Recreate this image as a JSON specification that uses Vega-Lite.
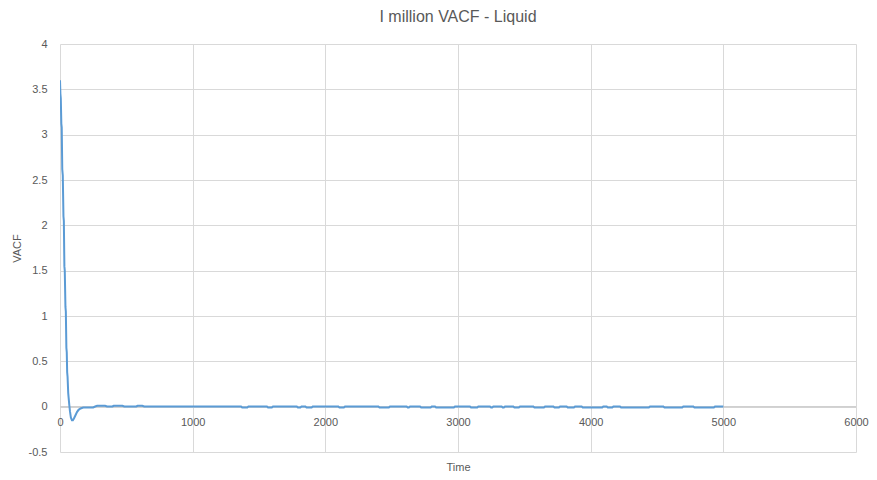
{
  "$schema": "https://vega.github.io/schema/vega-lite/v6.json",
  "autosize": "none",
  "width": 796,
  "height": 408,
  "padding": {"left": 60, "top": 44, "right": 21, "bottom": 28},
  "background": "white",
  "title": {"text": "I million VACF - Liquid", "fontSize": 16, "fontWeight": "normal", "color": "#595959", "font": "Liberation Sans", "offset": 13},
  "config": {"view": {"stroke": null}, "font": "Liberation Sans"},
  "data": {"values": [
    {"t": 0, "v": 3.6}, {"t": 3, "v": 3.45}, {"t": 6, "v": 3.4}, {"t": 10, "v": 3.12}, {"t": 13, "v": 3.08},
    {"t": 17, "v": 2.62}, {"t": 21, "v": 2.55}, {"t": 26, "v": 2.1}, {"t": 29, "v": 2.05}, {"t": 33, "v": 1.55},
    {"t": 36, "v": 1.5}, {"t": 41, "v": 1.1}, {"t": 44, "v": 1.05}, {"t": 48, "v": 0.65}, {"t": 51, "v": 0.6},
    {"t": 54, "v": 0.38}, {"t": 57, "v": 0.33}, {"t": 62, "v": 0.15}, {"t": 65, "v": 0.1}, {"t": 70, "v": 0.02},
    {"t": 75, "v": -0.05}, {"t": 82, "v": -0.12}, {"t": 90, "v": -0.15}, {"t": 97, "v": -0.15}, {"t": 105, "v": -0.13},
    {"t": 115, "v": -0.1}, {"t": 128, "v": -0.06}, {"t": 140, "v": -0.035}, {"t": 155, "v": -0.02}, {"t": 175, "v": -0.01},
    {"t": 250, "v": -0.008}, {"t": 265, "v": 0.002}, {"t": 280, "v": 0.01}, {"t": 340, "v": 0.01}, {"t": 355, "v": 0.002},
    {"t": 395, "v": 0.002}, {"t": 405, "v": 0.01}, {"t": 470, "v": 0.01}, {"t": 485, "v": 0.002}, {"t": 575, "v": 0.002},
    {"t": 585, "v": 0.01}, {"t": 620, "v": 0.01}, {"t": 635, "v": 0.002},
    {"t": 1365, "v": 0.002}, {"t": 1373, "v": -0.008}, {"t": 1412, "v": -0.008}, {"t": 1420, "v": 0.002},
    {"t": 1560, "v": 0.002}, {"t": 1568, "v": -0.008}, {"t": 1597, "v": -0.008}, {"t": 1605, "v": 0.002},
    {"t": 1785, "v": 0.002}, {"t": 1793, "v": -0.008}, {"t": 1812, "v": -0.008}, {"t": 1820, "v": 0.002},
    {"t": 1850, "v": 0.002}, {"t": 1858, "v": -0.008}, {"t": 1897, "v": -0.008}, {"t": 1905, "v": 0.002},
    {"t": 2098, "v": 0.002}, {"t": 2106, "v": -0.008}, {"t": 2140, "v": -0.008}, {"t": 2148, "v": 0.002},
    {"t": 2400, "v": 0.002}, {"t": 2408, "v": -0.008}, {"t": 2479, "v": -0.008}, {"t": 2487, "v": 0.002},
    {"t": 2613, "v": 0.002}, {"t": 2621, "v": -0.008}, {"t": 2630, "v": -0.008}, {"t": 2638, "v": 0.002},
    {"t": 2714, "v": 0.002}, {"t": 2722, "v": -0.008}, {"t": 2794, "v": -0.008}, {"t": 2802, "v": 0.002},
    {"t": 2827, "v": 0.002}, {"t": 2835, "v": -0.008}, {"t": 2969, "v": -0.008}, {"t": 2977, "v": 0.002},
    {"t": 3090, "v": 0.002}, {"t": 3098, "v": -0.008}, {"t": 3145, "v": -0.008}, {"t": 3153, "v": 0.002},
    {"t": 3241, "v": 0.002}, {"t": 3249, "v": -0.008}, {"t": 3258, "v": -0.008}, {"t": 3266, "v": 0.002},
    {"t": 3329, "v": 0.002}, {"t": 3337, "v": -0.008}, {"t": 3346, "v": -0.008}, {"t": 3354, "v": 0.002},
    {"t": 3417, "v": 0.002}, {"t": 3425, "v": -0.008}, {"t": 3459, "v": -0.008}, {"t": 3467, "v": 0.002},
    {"t": 3568, "v": 0.002}, {"t": 3576, "v": -0.008}, {"t": 3648, "v": -0.008}, {"t": 3656, "v": 0.002},
    {"t": 3719, "v": 0.002}, {"t": 3727, "v": -0.008}, {"t": 3761, "v": -0.008}, {"t": 3769, "v": 0.002},
    {"t": 3819, "v": 0.002}, {"t": 3827, "v": -0.008}, {"t": 3874, "v": -0.008}, {"t": 3882, "v": 0.002},
    {"t": 3932, "v": 0.002}, {"t": 3940, "v": -0.008}, {"t": 4087, "v": -0.008}, {"t": 4095, "v": 0.002},
    {"t": 4121, "v": 0.002}, {"t": 4129, "v": -0.008}, {"t": 4163, "v": -0.008}, {"t": 4171, "v": 0.002},
    {"t": 4221, "v": 0.002}, {"t": 4229, "v": -0.008}, {"t": 4439, "v": -0.008}, {"t": 4447, "v": 0.002},
    {"t": 4548, "v": 0.002}, {"t": 4556, "v": -0.008}, {"t": 4690, "v": -0.008}, {"t": 4698, "v": 0.002},
    {"t": 4774, "v": 0.002}, {"t": 4782, "v": -0.008}, {"t": 4929, "v": -0.008}, {"t": 4937, "v": 0.002},
    {"t": 5000, "v": 0.002}
  ]},
  "layer": [
    {
      "mark": {"type": "rule", "color": "#d0d0d0", "strokeWidth": 1},
      "encoding": {"y": {"datum": 0, "type": "quantitative"}}
    },
    {
      "mark": {"type": "line", "color": "#5b9bd5", "strokeWidth": 2, "clip": true},
      "encoding": {
        "x": {"field": "t", "type": "quantitative", "scale": {"domain": [0, 6000], "nice": false, "zero": false},
          "axis": {"title": "Time", "values": [0, 1000, 2000, 3000, 4000, 5000, 6000], "labelExpr": "datum.value + ''",
            "domain": false, "ticks": false, "grid": true, "gridColor": "#d9d9d9", "labelFlush": false,
            "labelPadding": -36, "labelFontSize": 11, "labelColor": "#595959", "labelFont": "Liberation Sans",
            "titleFontSize": 11, "titleFontWeight": "normal", "titleColor": "#595959", "titleFont": "Liberation Sans", "titlePadding": 9}},
        "y": {"field": "v", "type": "quantitative", "scale": {"domain": [-0.5, 4], "nice": false, "zero": false},
          "axis": {"title": "VACF", "values": [-0.5, 0, 0.5, 1, 1.5, 2, 2.5, 3, 3.5, 4], "labelExpr": "datum.value + ''",
            "domain": false, "ticks": false, "grid": true, "gridColor": "#d9d9d9",
            "labelPadding": 13, "labelFontSize": 11, "labelColor": "#595959", "labelFont": "Liberation Sans",
            "titleFontSize": 11, "titleFontWeight": "normal", "titleColor": "#595959", "titleFont": "Liberation Sans", "titlePadding": 6}}
      }
    }
  ]
}
